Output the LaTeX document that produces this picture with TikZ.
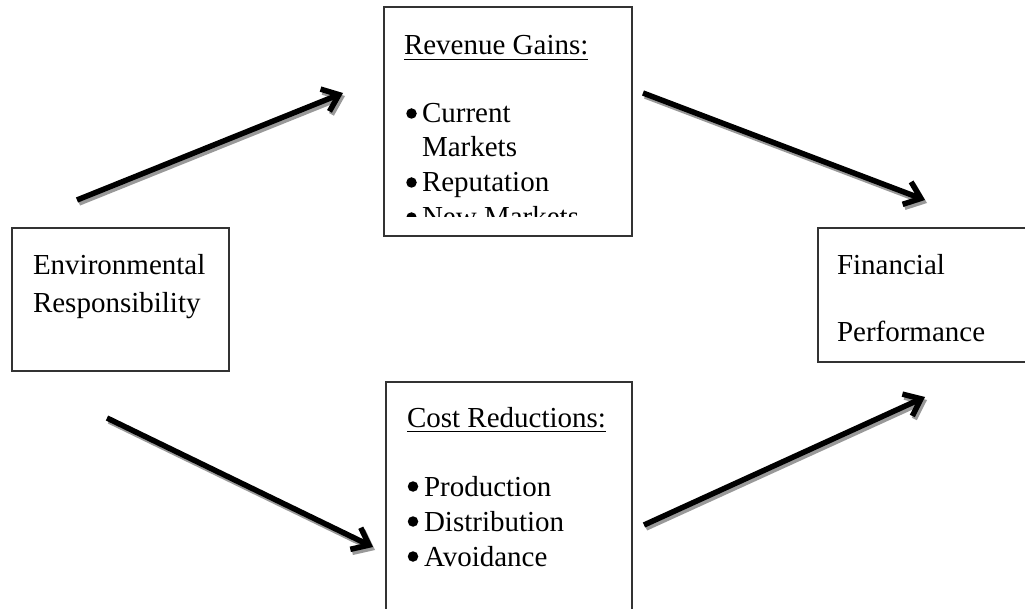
\documentclass[tikz,border=0pt]{standalone}
\usepackage{fontspec}
\setmainfont{Liberation Serif}
\usetikzlibrary{arrows.meta}
\begin{document}
\begin{tikzpicture}[x=1pt,y=-1pt,
  box/.style={draw=black!80,line width=1.4pt,inner sep=0pt,outer sep=0pt,anchor=north west},
  txt/.style={anchor=base west,inner sep=0pt,outer sep=0pt,font=\fontsize{29}{35}\selectfont},
  dot/.style={circle,fill=black,inner sep=0pt,minimum size=10.5pt},
  flow/.style={line width=5.5pt,-{Straight Barb[length=15pt,width=24pt]}},
  flowshadow/.style={flow,draw=black!40},
  uline/.style={line width=1.6pt}]
\useasboundingbox (0,0) rectangle (1025,609);

% boxes
\node[box,minimum width=217pt,minimum height=143pt] (env)  at (12,228)  {};
\node[box,minimum width=248pt,minimum height=229pt] (rev)  at (384,7)   {};
\node[box,minimum width=246pt,minimum height=258pt] (cost) at (386,382) {};
\node[box,minimum width=217pt,minimum height=134pt] (fin)  at (818,228) {};

% Environmental Responsibility
\node[txt] (env1) at (33,275) {Environmental};
\node[txt] (env2) at (33,313) {Responsibility};

% Financial Performance
\node[txt] (fin1) at (837,275) {Financial};
\node[txt] (fin2) at (837,342) {Performance};

% Revenue Gains (the list runs past the box and is cut off)
\node[txt] (revh) at (404,55) {Revenue Gains:};
\draw[uline] ([yshift=-4.5pt]revh.base west) -- ([yshift=-4.5pt]revh.base east);
\begin{scope}
  \clip (384,7) rectangle (632,217);
  \node[dot] (rb1) at (411.5,113.5) {};
  \node[txt] (rt1) at (422,123) {Current};
  \node[txt] (rt1b) at (422,157) {Markets};
  \node[dot] (rb2) at (411.5,182.5) {};
  \node[txt] (rt2) at (422,192) {Reputation};
  \node[dot] (rb3) at (411.5,217.5) {};
  \node[txt] (rt3) at (422,227) {New Markets};
\end{scope}

% Cost Reductions
\node[txt] (costh) at (407,427) {Cost Reductions:};
\draw[uline] ([yshift=-4.5pt]costh.base west) -- ([yshift=-4.5pt]costh.base east);
\node[dot] (cb1) at (413,486.5) {};
\node[txt] (ct1) at (424,496) {Production};
\node[dot] (cb2) at (413,521.5) {};
\node[txt] (ct2) at (424,531) {Distribution};
\node[dot] (cb3) at (413,556.5) {};
\node[txt] (ct3) at (424,566) {Avoidance};

% arrow end points
\coordinate (envUp)   at (77,200);
\coordinate (revIn)   at (343,93);
\coordinate (envDown) at (107,418);
\coordinate (costIn)  at (373,547);
\coordinate (revOut)  at (643,93);
\coordinate (finTop)  at (925,200);
\coordinate (costOut) at (644,525);
\coordinate (finBot)  at (925,397);

% shadows
\foreach \a/\b in {envUp/revIn,envDown/costIn,revOut/finTop,costOut/finBot}
  \draw[flowshadow] ([shift={(2,3)}]\a) -- ([shift={(2,3)}]\b);
% arrows
\foreach \a/\b in {envUp/revIn,envDown/costIn,revOut/finTop,costOut/finBot}
  \draw[flow] (\a) -- (\b);
\end{tikzpicture}
\end{document}
